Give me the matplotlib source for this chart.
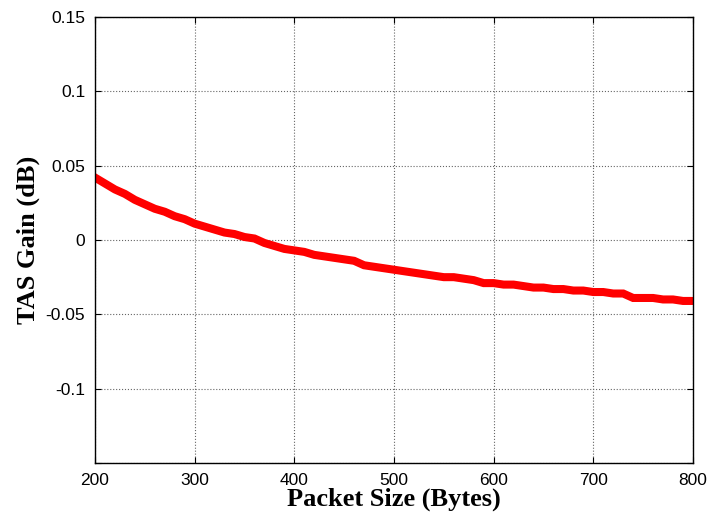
import numpy as np
import matplotlib
matplotlib.use("Agg")
import matplotlib.pyplot as plt

plt.rcParams["axes.unicode_minus"] = False

# Dane
packet_size = [200, 210, 220, 230, 240, 250, 260, 270, 280, 290,
               300, 310, 320, 330, 340, 350, 360, 370, 380, 390,
               400, 410, 420, 430, 440, 450, 460, 470, 480, 490,
               500, 510, 520, 530, 540, 550, 560, 570, 580, 590,
               600, 610, 620, 630, 640, 650, 660, 670, 680, 690,
               700, 710, 720, 730, 740, 750, 760, 770, 780, 790, 800]
tas_gain = [0.042, 0.038, 0.034, 0.031, 0.027, 0.024, 0.021, 0.019, 0.016, 0.014,
            0.011, 0.009, 0.007, 0.005, 0.004, 0.002, 0.001, -0.002, -0.004, -0.006,
            -0.007, -0.008, -0.010, -0.011, -0.012, -0.013, -0.014, -0.017, -0.018, -0.019,
            -0.020, -0.021, -0.022, -0.023, -0.024, -0.025, -0.025, -0.026, -0.027, -0.029,
            -0.029, -0.030, -0.030, -0.031, -0.032, -0.032, -0.033, -0.033, -0.034, -0.034,
            -0.035, -0.035, -0.036, -0.036, -0.039, -0.039, -0.039, -0.040, -0.040, -0.041, -0.041]

x_ticks = [200, 300, 400, 500, 600, 700, 800]
y_ticks = [-0.15, -0.1, -0.05, 0, 0.05, 0.1, 0.15]
y_tick_labels = ["", "-0.1", "-0.05", "0", "0.05", "0.1", "0.15"]

fig = plt.figure(figsize=(7.1, 5.24), dpi=100)
ax = fig.add_axes([0.1338, 0.1164, 0.8422, 0.8512])

ax.plot(packet_size, tas_gain, color="red", linewidth=5.8, solid_joinstyle="miter")

ax.set_xlim(200, 800)
ax.set_ylim(-0.15, 0.15)
ax.set_xticks(x_ticks)
ax.set_xticklabels([str(t) for t in x_ticks])
ax.set_yticks(y_ticks)
ax.set_yticklabels(y_tick_labels)

ax.tick_params(direction="in", length=4, width=0.8, top=True, right=True,
               labelsize=12.5, pad=7)
for lab in ax.get_xticklabels() + ax.get_yticklabels():
    lab.set_family("Liberation Sans")

ax.grid(True, linestyle=":", color="#666666", linewidth=0.8)
for s in ax.spines.values():
    s.set_linewidth(1.0)

ax.set_xlabel("Packet Size (Bytes)", fontfamily="Liberation Serif",
              fontweight="bold", fontsize=19, labelpad=0)
ax.set_ylabel("TAS Gain (dB)", fontfamily="Liberation Serif",
              fontweight="bold", fontsize=19, labelpad=4)

fig.savefig("out.png", dpi=100)
